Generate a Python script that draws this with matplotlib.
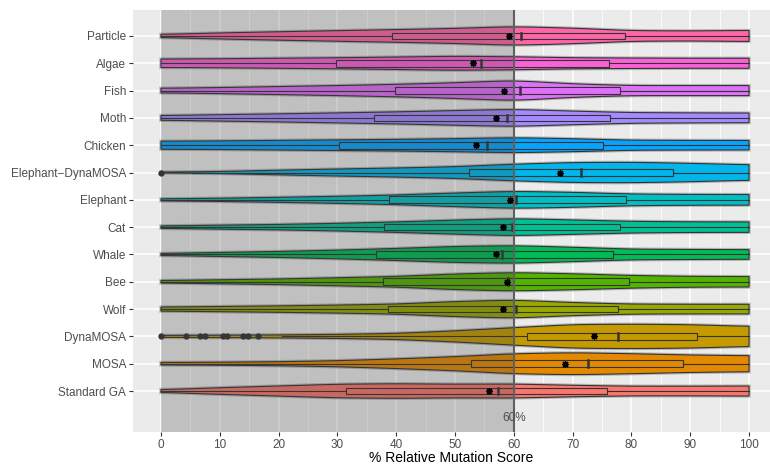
import numpy as np
import matplotlib.pyplot as plt
from matplotlib.patches import Rectangle

plt.rcParams['font.family'] = ['Liberation Sans', 'DejaVu Sans']

# categories bottom -> top
categories = ['Standard GA', 'MOSA', 'DynaMOSA', 'Wolf', 'Bee', 'Whale', 'Cat',
              'Elephant', 'Elephant\u2212DynaMOSA', 'Chicken', 'Moth', 'Fish', 'Algae', 'Particle']
colors = ['#F8766D', '#E38900', '#C49A00', '#99A800', '#53B400', '#00BC56', '#00C094',
          '#00BFC4', '#00B6EB', '#06A4FF', '#A58AFF', '#DF70F8', '#FB61D7', '#FF66A8']

# boxplot stats (% relative mutation score)
q1 = [31.4, 52.7, 62.2, 38.6, 37.7, 36.6, 37.9, 38.7, 52.4, 30.3, 36.2, 39.8, 29.8, 39.3]
median = [57.3, 72.6, 77.7, 60.3, 59.0, 58.0, 59.7, 60.3, 71.4, 55.4, 58.8, 61.1, 54.4, 61.3]
q3 = [75.9, 88.8, 91.2, 77.8, 79.6, 76.8, 78.1, 79.0, 87.1, 75.2, 76.4, 78.0, 76.2, 78.9]
mean = [55.8, 68.7, 73.6, 58.2, 58.8, 57.0, 58.1, 59.4, 67.9, 53.6, 57.0, 58.4, 53.1, 59.1]
whisker_lo = [0, 0, 20.6, 0, 0, 0, 0, 0, 5.2, 0, 0, 0, 0, 0]
whisker_hi = [100] * 14
outliers_dynamosa = [0, 4.2, 6.7, 7.4, 10.6, 11.2, 14.0, 14.8, 16.5]
outliers_eleph_dyna = [0]

# violin density profiles read at 0,10,...,100
density_x = [0, 10, 20, 30, 40, 50, 60, 70, 80, 90, 100]
density = [
    [1.3, 3.3, 5.0, 6.8, 7.3, 6.8, 7.0, 5.7, 4.8, 4.8, 5.0],    # Standard GA
    [1.2, 1.5, 2.0, 3.0, 4.8, 7.0, 10.0, 11.0, 10.0, 8.7, 8.0],  # MOSA
    [1.0, 1.2, 1.5, 2.0, 3.0, 5.5, 8.7, 11.8, 12.2, 11.7, 10.0], # DynaMOSA
    [2.0, 2.6, 3.2, 4.0, 5.0, 7.5, 9.0, 6.5, 5.0, 4.8, 4.8],    # Wolf
    [1.2, 2.0, 2.8, 4.0, 5.3, 7.8, 9.2, 8.0, 6.3, 5.4, 5.2],    # Bee
    [1.0, 2.0, 3.0, 4.3, 6.0, 8.0, 8.8, 7.2, 5.3, 5.0, 4.8],    # Whale
    [1.2, 2.0, 2.7, 3.8, 5.2, 7.0, 8.5, 7.2, 5.8, 5.3, 5.2],    # Cat
    [1.0, 1.6, 2.5, 3.5, 4.8, 6.8, 8.5, 7.5, 5.8, 5.4, 5.3],    # Elephant
    [0.4, 1.0, 2.3, 3.5, 4.5, 5.8, 8.3, 10.0, 10.2, 9.2, 7.7],  # Elephant-DynaMOSA
    [4.0, 4.3, 4.8, 5.3, 5.8, 6.5, 7.5, 6.5, 5.0, 4.8, 4.7],    # Chicken
    [2.3, 3.2, 4.0, 5.0, 6.0, 7.3, 8.5, 6.8, 5.3, 5.0, 4.8],    # Moth
    [2.3, 3.0, 4.0, 5.0, 6.2, 7.8, 10.0, 6.7, 5.0, 5.0, 5.0],   # Fish
    [4.2, 4.5, 5.0, 5.5, 6.2, 7.0, 6.5, 5.5, 5.2, 5.0, 5.0],    # Algae
    [1.5, 3.0, 4.2, 5.3, 6.3, 7.5, 9.3, 7.8, 5.3, 5.0, 5.5],    # Particle
]

threshold = 60

fig = plt.figure(figsize=(7.7, 4.66), dpi=100)
ax = fig.add_axes([133 / 770, 34 / 466, 637 / 770, 422 / 466])
ax.set_facecolor('#EBEBEB')
ax.set_xlim(-4.76, 103.57)
ax.set_ylim(-0.5, 14.95)

scale = 1 / 27.31
xs = np.linspace(0, 100, 401)
kernel = np.exp(-0.5 * (np.arange(-24, 25) / 10.0) ** 2)
kernel /= kernel.sum()

for i, cat in enumerate(categories):
    pos = i + 1
    col = colors[i]
    w = np.interp(xs, density_x, density[i])
    w = np.convolve(np.pad(w, 24, mode='edge'), kernel, mode='valid') * scale
    px = np.r_[xs, xs[::-1]]
    py = np.r_[pos + w, (pos - w)[::-1]]
    ax.fill(px, py, fc='none', ec=(0.3, 0.3, 0.3, 0.35), lw=2.4, zorder=1.9)
    ax.fill(px, py, fc=col, ec='#333333', lw=0.8, zorder=2)

    # box
    h = 0.245
    ax.plot([whisker_lo[i], q1[i]], [pos, pos], color='#333333', lw=0.8, zorder=3)
    ax.plot([q3[i], whisker_hi[i]], [pos, pos], color='#333333', lw=0.8, zorder=3)
    ax.add_patch(Rectangle((q1[i], pos - h / 2), q3[i] - q1[i], h,
                           fc=col, ec='#333333', lw=0.8, zorder=3))
    ax.plot([median[i], median[i]], [pos - h / 2, pos + h / 2], color='#333333', lw=1.8, zorder=3.1)

ax.plot(outliers_dynamosa, [3] * len(outliers_dynamosa), 'o', color='#333333', ms=3.5, zorder=3.2)
ax.plot(outliers_eleph_dyna, [9] * len(outliers_eleph_dyna), 'o', color='#333333', ms=3.5, zorder=3.2)
ax.plot(mean, np.arange(1, 15), ls='none', marker=(8, 2, 0), color='black', ms=5, mew=0.9, zorder=7)

# shaded region below threshold
ax.add_patch(Rectangle((0, -0.5), threshold, 15.45, fc='#404040', alpha=0.25, lw=0, zorder=5))
ax.axvline(threshold, color='#606060', lw=1.5, zorder=6)
ax.text(threshold, 0, '60%', ha='center', va='center', color='#4D4D4D', fontsize=8.5, zorder=7)

ax.set_yticks(np.arange(1, 15))
ax.set_yticklabels(categories)
ax.set_xticks(np.arange(0, 101, 10))
ax.set_xticks(np.arange(5, 100, 10), minor=True)
ax.grid(which='major', color='white', lw=1.1)
ax.grid(which='minor', axis='x', color='white', lw=0.55)
ax.set_axisbelow(True)
for s in ax.spines.values():
    s.set_visible(False)
ax.tick_params(which='major', length=3, width=0.8, color='#333333',
               labelcolor='#4D4D4D', labelsize=8.5, pad=2)
ax.tick_params(which='minor', length=0)
ax.set_xlabel('% Relative Mutation Score', fontsize=10, labelpad=0)

fig.savefig('out.png', dpi=100)
